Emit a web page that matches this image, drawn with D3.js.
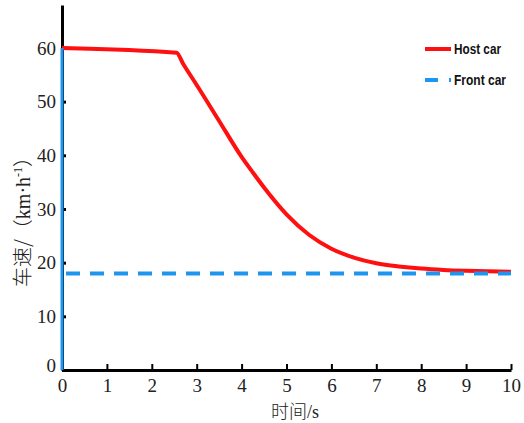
<!DOCTYPE html>
<html><head><meta charset="utf-8">
<script src="https://cdn.jsdelivr.net/npm/d3@7"></script>
<style>body{margin:0;background:#fff;} svg{display:block;}</style>
</head><body>
<script>
const hostTime  = [0, 2.55, 2.7, 3.0, 3.5, 4.0, 4.25, 4.5, 5.0, 5.5, 6.0, 6.5, 7.0, 7.5, 8.0, 8.5, 9.0, 9.5, 10];
const hostSpeed = [60, 59.1, 57.0, 53.1, 46.4, 39.7, 36.8, 34.0, 29.0, 25.2, 22.6, 20.95, 19.9, 19.3, 18.9, 18.65, 18.5, 18.4, 18.3];
const frontTime  = [0, 10];
const frontSpeed = [18, 18];
const frontStartTime = [0, 0];
const frontStartSpeed = [0, 60];
const xTicks = [0,1,2,3,4,5,6,7,8,9,10];
const yTicks = [0,10,20,30,40,50,60];
const seriesNames = ["Host car", "Front car"];

const W = 524, H = 423;
const svg = d3.select("body").append("svg").attr("width", W).attr("height", H);
const x = d3.scaleLinear().domain([0, 10]).range([62, 511]);
const y = d3.scaleLinear().domain([0, 68]).range([370, 5]);
const red = "#ff1010", blue = "#1e96f0";
const serif = "'Liberation Serif', 'Times New Roman', serif";

// axes
const xAxis = svg.append("g").attr("transform", `translate(0,${y(0)})`)
  .call(d3.axisBottom(x).tickValues(xTicks).tickSize(0).tickPadding(9).tickSizeOuter(0));
xAxis.select(".domain").attr("stroke", "#000").attr("stroke-width", 3);
xAxis.selectAll(".tick line").attr("y2", -6).attr("stroke", "#000").attr("stroke-width", 2);
xAxis.selectAll(".tick text").attr("font-family", serif).attr("font-size", 19).attr("fill", "#222");

const yAxis = svg.append("g").attr("transform", `translate(${x(0)},0)`)
  .call(d3.axisLeft(y).tickValues(yTicks).tickSize(0).tickPadding(6).tickSizeOuter(0));
yAxis.select(".domain").attr("stroke", "#000").attr("stroke-width", 3);
yAxis.selectAll(".tick line").attr("x2", 4).attr("stroke", "#000").attr("stroke-width", 3);
yAxis.selectAll(".tick text").attr("font-family", serif).attr("font-size", 19).attr("fill", "#222");
yAxis.selectAll(".tick").filter(d => d === 0).select("text").attr("dy", "0.1em");

// series
const hostData = hostTime.map((t, i) => [t, hostSpeed[i]]);
const frontData = frontTime.map((t, i) => [t, frontSpeed[i]]);
const frontStart = frontStartTime.map((t, i) => [t, frontStartSpeed[i]]);

svg.append("path").datum(hostData)
  .attr("d", d3.line().x(d => x(d[0])).y(d => y(d[1])).curve(d3.curveMonotoneX))
  .attr("fill", "none").attr("stroke", red).attr("stroke-width", 4).attr("stroke-linejoin", "round");
svg.append("path").datum(frontData).attr("d", d3.line().x(d => x(d[0])).y(d => y(d[1])))
  .attr("fill", "none").attr("stroke", blue).attr("stroke-width", 4)
  .attr("stroke-dasharray", "14,10").attr("stroke-dashoffset", -4);
svg.append("path").datum(frontStart).attr("d", d3.line().x(d => x(d[0])).y(d => y(d[1])))
  .attr("fill", "none").attr("stroke", blue).attr("stroke-width", 3);

// legend
const lg = svg.append("g");
lg.append("line").attr("x1", 425).attr("x2", 451).attr("y1", 49).attr("y2", 49)
  .attr("stroke", red).attr("stroke-width", 4);
lg.append("line").attr("x1", 425).attr("x2", 451).attr("y1", 80).attr("y2", 80)
  .attr("stroke", blue).attr("stroke-width", 4).attr("stroke-dasharray", "13,11");
lg.selectAll("text").data(seriesNames).join("text")
  .attr("x", 454).attr("y", (d, i) => [49, 80][i]).attr("dy", "0.35em")
  .attr("font-family", "'Liberation Sans', Arial, sans-serif").attr("font-weight", "bold").attr("font-size", 14)
  .attr("textLength", (d, i) => [47, 52][i]).attr("lengthAdjust", "spacingAndGlyphs")
  .attr("fill", "#111").text(d => d);

// axis titles
svg.append("text").attr("x", 295).attr("y", 418).attr("text-anchor", "middle")
  .attr("font-family", serif).attr("font-size", 18).attr("fill", "#222")
  .html("<tspan font-family=\"'Noto Sans CJK SC'\" font-weight=\"300\">时间</tspan>/s");
svg.append("text").attr("transform", "translate(30,217) rotate(-90)").attr("text-anchor", "middle")
  .attr("font-family", serif).attr("font-size", 20).attr("fill", "#222")
  .html("<tspan font-family=\"'Noto Sans CJK SC'\" font-weight=\"300\">车速/（</tspan>km·h<tspan dy=\"-8\" font-size=\"12\">-1</tspan><tspan dy=\"8\" font-family=\"'Noto Sans CJK SC'\" font-weight=\"300\">）</tspan>");
</script>
</body></html>
